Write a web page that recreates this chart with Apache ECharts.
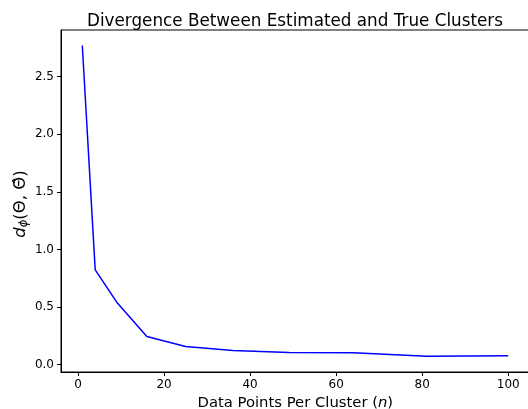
<!DOCTYPE html>
<html>
<head>
<meta charset="utf-8">
<script src="https://cdn.jsdelivr.net/npm/echarts@6/dist/echarts.min.js"></script>
<style>
html,body{margin:0;padding:0;background:#fff;}
#c{width:528px;height:409px;}
</style>
</head>
<body>
<div id="c"></div>
<script>
const xValues = [1, 4, 9, 16, 25, 36, 49, 64, 81, 100];
const yValues = [2.77, 0.823, 0.543, 0.245, 0.159, 0.124, 0.107, 0.104, 0.073, 0.079];
const xTicks = [0, 20, 40, 60, 80, 100];
const yTicks = [0, 0.5, 1.0, 1.5, 2.0, 2.5];
const titleText = 'Divergence Between Estimated and True Clusters';

const FONT = 'DejaVu Sans';
const chart = echarts.init(document.getElementById('c'), null, {renderer: 'canvas'});
chart.setOption({
  animation: false,
  backgroundColor: '#fff',
  title: {
    text: titleText,
    left: 290, top: 8, textAlign: 'center',
    textStyle: {fontFamily: FONT, fontSize: 16.8, fontWeight: 'normal', color: '#000'}
  },
  grid: {left: 61, top: 30, width: 468.6, height: 342, outerBoundsMode: 'none', containLabel: false,
    show: true, borderColor: '#000', borderWidth: 1, backgroundColor: 'transparent'},
  xAxis: {
    type: 'value', min: -3.95, max: 104.95,
    splitLine: {show: false},
    axisLine: {show: true, onZero: false, lineStyle: {color: '#000', width: 1}},
    axisTick: {show: true, length: 4, customValues: xTicks, lineStyle: {color: '#000'}},
    axisLabel: {customValues: xTicks, color: '#000', fontFamily: FONT, fontSize: 12, margin: 7,
      formatter: v => String(v)},
    name: '{t|Data Points Per Cluster (}{i|n}{t|)}',
    nameLocation: 'middle', nameGap: 24, nameMoveOverlap: false,
    nameTextStyle: {rich: {
      t: {fontFamily: FONT, fontSize: 14.8, color: '#000'},
      i: {fontFamily: FONT, fontSize: 14.8, fontStyle: 'italic', color: '#000'}
    }}
  },
  yAxis: {
    type: 'value', min: -0.063, max: 2.905,
    splitLine: {show: false},
    axisLine: {show: true, onZero: false, lineStyle: {color: '#000', width: 1}},
    axisTick: {show: true, length: 4, customValues: yTicks, lineStyle: {color: '#000'}},
    axisLabel: {customValues: yTicks, color: '#000', fontFamily: FONT, fontSize: 12, margin: 7,
      formatter: v => v.toFixed(1)},
    name: '{i|d}{s|ϕ}{t|(Θ, }{t|Θ̂}{t|)}',
    nameLocation: 'middle', nameGap: 31, nameRotate: 90, nameMoveOverlap: false,
    nameTextStyle: {padding: [0, 6, 0, 0], rich: {
      t: {fontFamily: FONT, fontSize: 16.5, color: '#000'},
      i: {fontFamily: FONT, fontSize: 16.5, fontStyle: 'italic', color: '#000'},
      s: {fontFamily: FONT, fontSize: 11.5, fontStyle: 'italic', color: '#000', verticalAlign: 'bottom', padding: [7, 0, 0, 0]}
    }}
  },
  series: [{
    type: 'line',
    data: xValues.map((x, i) => [x, yValues[i]]),
    showSymbol: false,
    lineStyle: {color: '#0000ff', width: 1.5},
    itemStyle: {color: '#0000ff'}
  }]
});
</script>
</body>
</html>
